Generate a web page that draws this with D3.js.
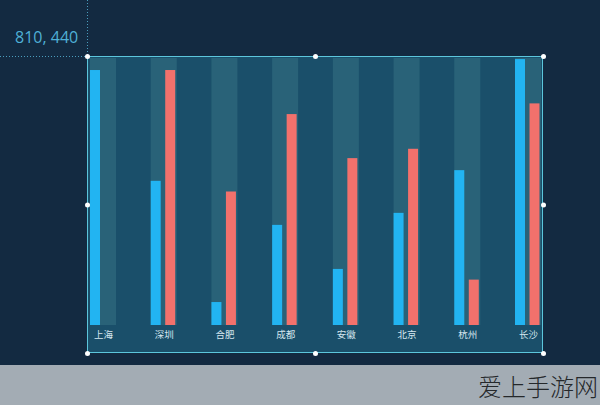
<!DOCTYPE html>
<html>
<head>
<meta charset="utf-8">
<script src="https://cdn.jsdelivr.net/npm/d3@7"></script>
<style>
  html, body { margin: 0; padding: 0; background: #132a41; }
  svg { display: block; }
</style>
</head>
<body>
<svg id="chart" width="600" height="405"></svg>
<script>
const categories = ["上海", "深圳", "合肥", "成都", "安徽", "北京", "杭州", "长沙"];
const seriesA = [95.5, 54, 8.6, 37.5, 21, 42, 58, 99.6];   // blue
const seriesB = [0, 95.5, 50, 79, 62.5, 66, 17, 83];        // red
const yMax = 100;
const sizeLabel = "810, 440";
const watermark = "爱上手游网";

const svg = d3.select("#chart");
const W = 600, H = 405;

svg.append("rect").attr("width", W).attr("height", H).attr("fill", "#132a41");

const box = { x0: 87, y0: 56, x1: 543, y1: 353 };
svg.append("rect")
  .attr("x", box.x0).attr("y", box.y0)
  .attr("width", box.x1 - box.x0).attr("height", box.y1 - box.y0)
  .attr("fill", "#1a4f6a");

const plotTop = 58, plotBottom = 325;
const x = d3.scalePoint().domain(categories).range([103, 528]);
const y = d3.scaleLinear().domain([0, yMax]).range([plotBottom, plotTop]);

const barW = 10;
svg.append("g").selectAll("rect").data(categories).join("rect")
  .attr("x", d => x(d) - 13)
  .attr("y", y(yMax))
  .attr("width", 26)
  .attr("height", y(0) - y(yMax))
  .attr("fill", "#3f7f8c")
  .attr("fill-opacity", 0.42);

svg.append("g").selectAll("rect").data(seriesA).join("rect")
  .attr("x", (d, i) => x(categories[i]) - 13)
  .attr("y", d => y(d))
  .attr("width", barW)
  .attr("height", d => y(0) - y(d))
  .attr("fill", "#22b4f2");

svg.append("g").selectAll("rect").data(seriesB).join("rect")
  .attr("x", (d, i) => x(categories[i]) + 1.5)
  .attr("y", d => y(d))
  .attr("width", barW)
  .attr("height", d => y(0) - y(d))
  .attr("fill", "#f2716c");

const xAxis = d3.axisBottom(x).tickSize(0).tickPadding(6);
const gx = svg.append("g").attr("transform", `translate(0,${plotBottom})`).call(xAxis);
gx.select(".domain").remove();
gx.selectAll("text")
  .attr("fill", "#d5e6ef")
  .attr("font-size", 9.5)
  .attr("font-family", "'Noto Sans CJK SC', sans-serif");

svg.append("rect")
  .attr("x", box.x0 + 0.5).attr("y", box.y0 + 0.5)
  .attr("width", box.x1 - box.x0 - 1).attr("height", box.y1 - box.y0 - 1)
  .attr("fill", "none")
  .attr("stroke", "#5cc6dc")
  .attr("stroke-width", 1);

svg.append("line").attr("x1", box.x0 + 0.5).attr("x2", box.x0 + 0.5)
  .attr("y1", 0).attr("y2", box.y0)
  .attr("stroke", "#4a9dbd").attr("stroke-dasharray", "1,2");
svg.append("line").attr("x1", 0).attr("x2", box.x0)
  .attr("y1", box.y0 + 0.5).attr("y2", box.y0 + 0.5)
  .attr("stroke", "#4a9dbd").attr("stroke-dasharray", "1,2");

const mx = (box.x0 + box.x1) / 2, my = (box.y0 + box.y1) / 2;
const handles = [[box.x0, box.y0], [mx, box.y0], [box.x1, box.y0],
                 [box.x0, my], [box.x1, my],
                 [box.x0, box.y1], [mx, box.y1], [box.x1, box.y1]];
svg.append("g").selectAll("circle").data(handles).join("circle")
  .attr("cx", d => d[0] + 0.5).attr("cy", d => d[1] + 0.5)
  .attr("r", 2.5).attr("fill", "#ffffff");

svg.append("text")
  .attr("x", 15).attr("y", 43)
  .attr("fill", "#4fb0d6")
  .attr("font-size", 16)
  .attr("font-family", "'Open Sans', sans-serif")
  .text(sizeLabel);

svg.append("rect").attr("x", 0).attr("y", 365).attr("width", W).attr("height", 40).attr("fill", "#a3acb4");
svg.append("text")
  .attr("x", 598).attr("y", 396)
  .attr("text-anchor", "end")
  .attr("fill", "#25282b")
  .attr("font-size", 24)
  .attr("font-weight", 300)
  .attr("font-family", "'Noto Sans CJK SC', sans-serif")
  .text(watermark);
</script>
</body>
</html>
